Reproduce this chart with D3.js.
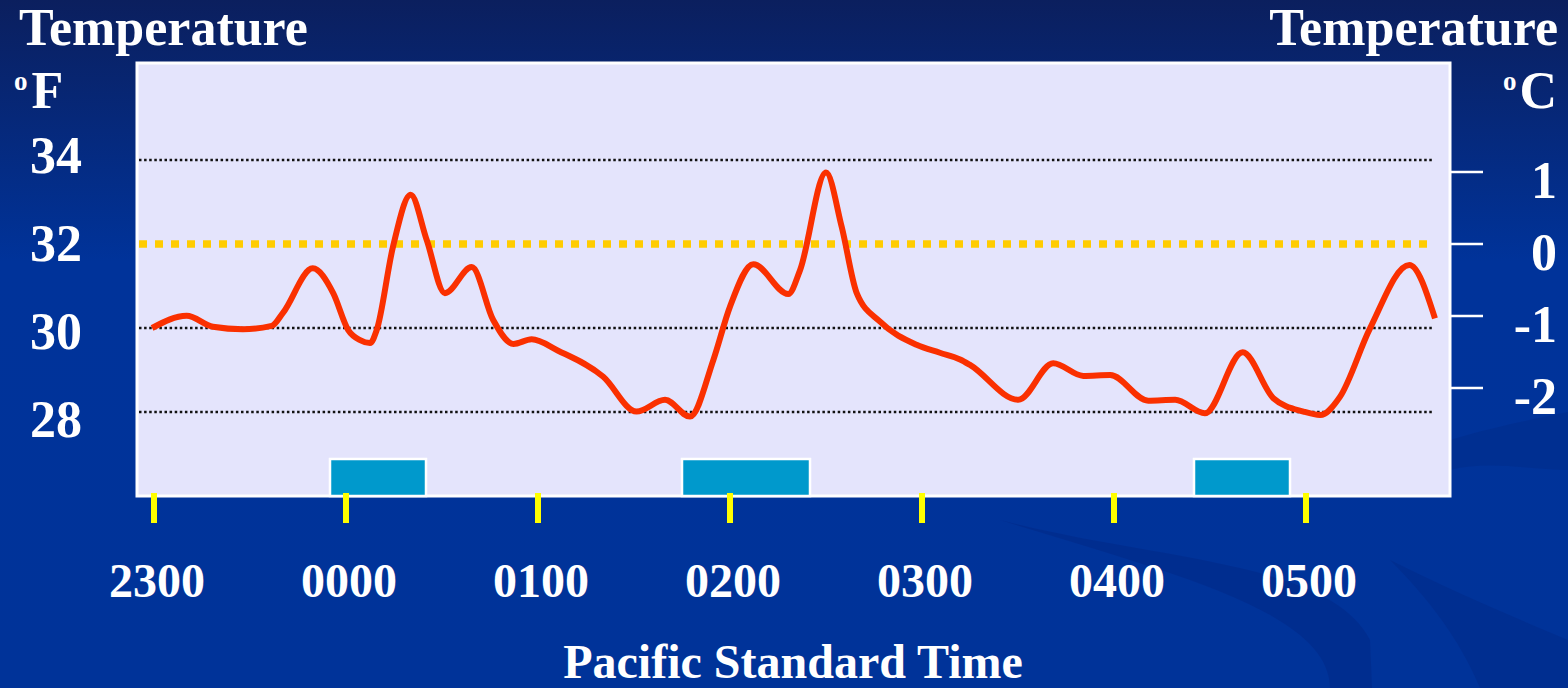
<!DOCTYPE html>
<html>
<head>
<meta charset="utf-8">
<script src="https://cdn.jsdelivr.net/npm/d3@7"></script>
<style>
    html, body { margin: 0; padding: 0; background: #003399; overflow: hidden; }
    svg { display: block; }
</style>
</head>
<body>
<div id="chart"></div>
<script>
// minutes after 2300 PST
const sampleMinutes = [-0.6, 10.2, 18.4, 27.8, 36.8, 40.3, 49.6, 56.0, 60.7, 64.4, 67.5, 69.6, 74.7, 80.2, 85.2,
    90.9, 99.3, 106.0, 112.3, 118.0, 126.3, 140.4, 150.8, 159.7, 167.5, 174.8, 180.0, 187.3, 198.2, 201.9,
    210.0, 214.9, 219.6, 226.9, 238.3, 245.6, 251.9, 255.0, 270.1, 281.0, 290.4, 298.8, 310.7, 319.1, 328.4,
    340.2, 349.8, 359.2, 364.4, 370.6, 380.0, 392.3, 400.3];
// temperature in deg F
const sampleTempF = [30.0, 30.29, 30.03, 29.97, 30.05, 30.36, 31.42, 30.83, 29.95, 29.71, 29.64, 29.95, 31.94, 33.17, 32.10,
    30.83, 31.45, 30.19, 29.62, 29.73, 29.46, 28.84, 28.01, 28.29, 27.89, 29.24, 30.51, 31.52, 30.81, 31.38,
    33.70, 32.41, 30.83, 30.15, 29.60, 29.41, 29.25, 29.12, 28.29, 29.16, 28.86, 28.88, 28.27, 28.29, 27.97,
    29.42, 28.33, 28.01, 27.93, 28.36, 29.99, 31.50, 30.23];

const hourTicks = [0, 60, 120, 180, 240, 300, 360];
const hourLabels = ["2300", "0000", "0100", "0200", "0300", "0400", "0500"];
const fTicks = [34, 32, 30, 28];
const gridF = [34, 30, 28];
const freezingF = 32;
const cTicks = [1, 0, -1, -2];

// the three blue bars along the bottom (start / end, minutes after 2300)
const barStarts = [55, 165, 325];
const barEnds = [85, 205, 355];

const W = 1568, H = 688;
const FONT = "'Liberation Serif', 'Times New Roman', serif";

function main() {
    const svg = d3.select("#chart")
        .append("svg")
            .attr("width", W)
            .attr("height", H);

    background(svg);

    // plot box, in page pixels
    const box = { left: 137, top: 63, right: 1450, bottom: 496 };

    const x = d3.scaleLinear()
        .domain([0, 60])
        .range([154, 346]);

    const y = d3.scaleLinear()
        .domain([30, 34])
        .range([328, 160]);

    // the C side on the slide is not an exact conversion, roughly 72px per degree
    const yC = d3.scaleLinear()
        .domain([-2, 1])
        .range([y(freezingF) + 144, y(freezingF) - 72]);

    // label positions for the F side sit a bit off the grid lines
    const yLabel = d3.scaleLinear()
        .domain([28, 34])
        .range([437, 173]);

    svg.append("rect")
        .attr("x", box.left)
        .attr("y", box.top)
        .attr("width", box.right - box.left)
        .attr("height", box.bottom - box.top)
        .attr("fill", "#E4E4FC")
        .attr("stroke", "#ffffff")
        .attr("stroke-width", 3);

    // dotted grid lines
    svg.selectAll(".grid")
        .data(gridF)
        .enter()
        .append("line")
            .attr("class", "grid")
            .attr("x1", box.left + 2)
            .attr("x2", 1433)
            .attr("y1", d => y(d))
            .attr("y2", d => y(d))
            .attr("stroke", "#111111")
            .attr("stroke-width", 2.5)
            .attr("stroke-dasharray", "2.5,2.6");

    // freezing line
    svg.append("line")
        .attr("x1", box.left + 2)
        .attr("x2", 1428)
        .attr("y1", y(freezingF))
        .attr("y2", y(freezingF))
        .attr("stroke", "#FFCC00")
        .attr("stroke-width", 7.5)
        .attr("stroke-dasharray", "8,8");

    // blue bars sitting on the bottom edge
    svg.selectAll(".period")
        .data(barStarts)
        .enter()
        .append("rect")
            .attr("class", "period")
            .attr("x", d => x(d))
            .attr("y", 459)
            .attr("width", (d, i) => x(barEnds[i]) - x(d))
            .attr("height", box.bottom - 459)
            .attr("fill", "#0099CC")
            .attr("stroke", "#ffffff")
            .attr("stroke-width", 2.5);

    // temperature trace
    const points = sampleMinutes.map((m, i) => [m, sampleTempF[i]]);
    const line = d3.line()
        .x(d => x(d[0]))
        .y(d => y(d[1]))
        .curve(d3.curveMonotoneX);

    svg.append("path")
        .datum(points)
        .attr("d", line)
        .attr("fill", "none")
        .attr("stroke", "#FA3000")
        .attr("stroke-width", 6)
        .attr("stroke-linejoin", "round");

    // yellow hour ticks under the box
    svg.selectAll(".hourtick")
        .data(hourTicks)
        .enter()
        .append("rect")
            .attr("class", "hourtick")
            .attr("x", d => x(d) - 3)
            .attr("y", 493)
            .attr("width", 6)
            .attr("height", 30)
            .attr("fill", "#FFFF00");

    svg.selectAll(".hourlabel")
        .data(hourTicks)
        .enter()
        .append("text")
            .attr("class", "hourlabel")
            .attr("x", d => x(d) + 3)
            .attr("y", 597)
            .attr("text-anchor", "middle")
            .attr("font-family", FONT)
            .attr("font-weight", "bold")
            .attr("font-size", 48)
            .attr("fill", "#ffffff")
            .text((d, i) => hourLabels[i]);

    // right hand C ticks
    svg.selectAll(".ctick")
        .data(cTicks)
        .enter()
        .append("line")
            .attr("class", "ctick")
            .attr("x1", box.right)
            .attr("x2", 1483)
            .attr("y1", d => yC(d))
            .attr("y2", d => yC(d))
            .attr("stroke", "#ffffff")
            .attr("stroke-width", 2.5);

    svg.selectAll(".clabel")
        .data(cTicks)
        .enter()
        .append("text")
            .attr("class", "clabel")
            .attr("x", 1557)
            .attr("y", d => yC(d) + 26)
            .attr("text-anchor", "end")
            .attr("font-family", FONT)
            .attr("font-weight", "bold")
            .attr("font-size", 52)
            .attr("fill", "#ffffff")
            .text(d => d);

    svg.selectAll(".flabel")
        .data(fTicks)
        .enter()
        .append("text")
            .attr("class", "flabel")
            .attr("x", 56)
            .attr("y", d => yLabel(d))
            .attr("text-anchor", "middle")
            .attr("font-family", FONT)
            .attr("font-weight", "bold")
            .attr("font-size", 52)
            .attr("fill", "#ffffff")
            .text(d => d);

    titles(svg);
}

function background(svg) {
    const defs = svg.append("defs");
    const grad = defs.append("linearGradient")
        .attr("id", "bg")
        .attr("x1", 0).attr("y1", 0)
        .attr("x2", 0).attr("y2", 1);
    grad.append("stop").attr("offset", "0%").attr("stop-color", "#0B1F5E");
    grad.append("stop").attr("offset", "38%").attr("stop-color", "#00339A");
    grad.append("stop").attr("offset", "100%").attr("stop-color", "#003399");

    svg.append("rect")
        .attr("width", W)
        .attr("height", H)
        .attr("fill", "url(#bg)");

    // faint swooshes in the lower right of the slide
    svg.append("path")
        .attr("d", "M1000,520 C1150,560 1330,560 1370,640 L1372,688 L1330,688 C1330,610 1160,570 1000,520 Z")
        .attr("fill", "#002a88")
        .attr("opacity", 0.6);
    svg.append("path")
        .attr("d", "M1450,440 C1500,425 1540,418 1568,412 L1568,470 C1530,470 1490,460 1450,470 Z")
        .attr("fill", "#002d8c")
        .attr("opacity", 0.6);
    svg.append("path")
        .attr("d", "M1390,560 C1450,590 1520,620 1568,640 L1568,688 L1480,688 C1460,640 1430,600 1390,560 Z")
        .attr("fill", "#002a88")
        .attr("opacity", 0.5);
}

function titles(svg) {
    const txt = (x, yy, size, anchor) => svg.append("text")
        .attr("x", x)
        .attr("y", yy)
        .attr("text-anchor", anchor)
        .attr("font-family", FONT)
        .attr("font-weight", "bold")
        .attr("font-size", size)
        .attr("fill", "#ffffff");

    txt(19, 45, 52, "start").text("Temperature");
    txt(1558, 45, 52, "end").text("Temperature");

    // degree signs are a raised small "o" on the slide
    const f = txt(14, 108, 52, "start");
    f.append("tspan").attr("font-size", 27).attr("dy", -18).text("o");
    f.append("tspan").attr("dy", 18).attr("dx", 4).text("F");

    const c = txt(1557, 108, 52, "end");
    c.append("tspan").attr("font-size", 27).attr("dy", -18).text("o");
    c.append("tspan").attr("dy", 18).attr("dx", 3).text("C");

    txt(793, 678, 48, "middle").text("Pacific Standard Time");
}

main();
</script>
</body>
</html>
